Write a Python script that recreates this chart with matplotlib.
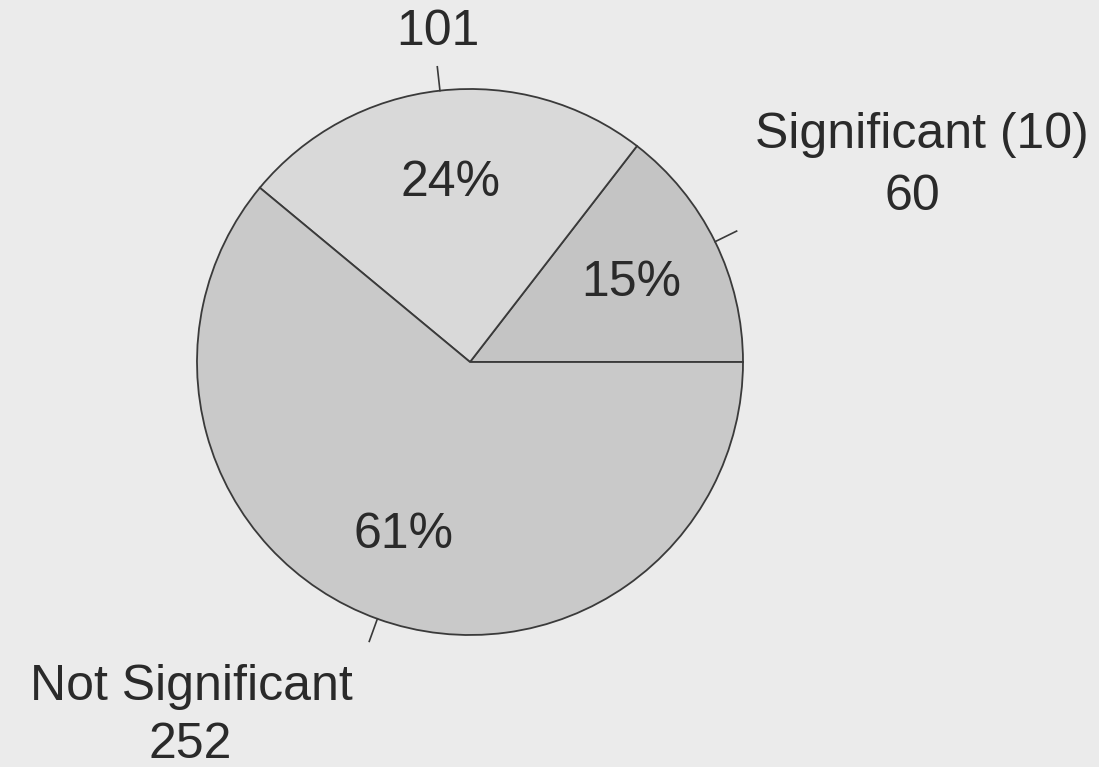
import numpy as np
import matplotlib
matplotlib.use("Agg")
import matplotlib.pyplot as plt

# Counts per category (wedges go counter-clockwise from 3 o'clock)
categories = ["Significant (10)", "", "Not Significant"]
counts = [60, 101, 252]
wedge_colors = ["#c4c4c4", "#d9d9d9", "#c9c9c9"]

W, H = 1099, 767
fig = plt.figure(figsize=(W / 100, H / 100), dpi=100)
bg = "#ebebeb"
fig.patch.set_facecolor(bg)
ax = fig.add_axes([0, 0, 1, 1])
ax.set_facecolor(bg)

cx, cy, R = 470, H - 362, 273
font = dict(family="Liberation Sans", color="#2a2a2a")
fs = 36

wedges, _, pct_texts = ax.pie(
    counts, startangle=0, counterclock=True, colors=wedge_colors,
    center=(cx, cy), radius=R, autopct="%.0f%%", pctdistance=0.66,
    wedgeprops=dict(edgecolor="#3a3a3a", linewidth=1.3),
    textprops=dict(fontsize=fs, **font), frame=True,
)
# the large wedge's percentage sits a little further out
pct_texts[2].set_position((403, H - 535))

# short radial tick at the middle of each wedge
for w in wedges:
    mid = np.deg2rad((w.theta1 + w.theta2) / 2)
    r0, r1 = R, R + 24
    ax.plot([cx + r0 * np.cos(mid), cx + r1 * np.cos(mid)],
            [cy + r0 * np.sin(mid), cy + r1 * np.sin(mid)],
            color="#3a3a3a", lw=1.2)

# outer labels: category name above, count below
ax.text(438, H - 45, f"{counts[1]}", ha="center", va="baseline", fontsize=fs, **font)
ax.text(922, H - 148, categories[0], ha="center", va="baseline", fontsize=fs, **font)
ax.text(912, H - 210, f"{counts[0]}", ha="center", va="baseline", fontsize=fs, **font)
ax.text(191, H - 700, categories[2], ha="center", va="baseline", fontsize=fs, **font)
ax.text(190, H - 758, f"{counts[2]}", ha="center", va="baseline", fontsize=fs, **font)

ax.set_xlim(0, W)
ax.set_ylim(0, H)
ax.set_aspect("equal")
ax.axis("off")

fig.savefig("out.png", dpi=100, facecolor=bg)
